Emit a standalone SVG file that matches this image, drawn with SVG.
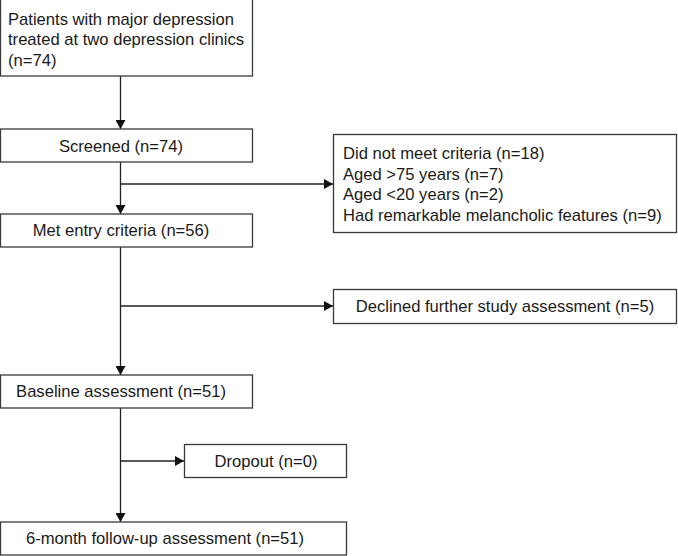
<svg xmlns="http://www.w3.org/2000/svg" width="678" height="556" viewBox="0 0 678 556">
<style>
.box{fill:#fff;stroke:#3a3a3a;stroke-width:1.3}
.t{font-family:"Liberation Sans",Arial,sans-serif;font-size:16.6px;fill:#1a1a1a}
.c{text-anchor:middle}
.ln{stroke:#222;stroke-width:1.3;fill:none}
</style>
<defs>
<marker id="ah" markerUnits="userSpaceOnUse" markerWidth="10" markerHeight="10" refX="9" refY="5" orient="auto">
<path d="M0,0 L9,5 L0,10 Z" fill="#111"/>
</marker>
</defs>
<rect width="678" height="556" fill="#fff"/>
<g id="connectors">
<line class="ln" x1="120.5" y1="76" x2="120.5" y2="129" marker-end="url(#ah)"/>
<line class="ln" x1="120.5" y1="162" x2="120.5" y2="214" marker-end="url(#ah)"/>
<line class="ln" x1="120.5" y1="184" x2="333" y2="184" marker-end="url(#ah)"/>
<line class="ln" x1="120.5" y1="247" x2="120.5" y2="375" marker-end="url(#ah)"/>
<line class="ln" x1="120.5" y1="306" x2="333" y2="306" marker-end="url(#ah)"/>
<line class="ln" x1="120.5" y1="408" x2="120.5" y2="522" marker-end="url(#ah)"/>
<line class="ln" x1="120.5" y1="461" x2="184" y2="461" marker-end="url(#ah)"/>
</g>
<g id="n1">
<rect class="box" x="0.5" y="-1" width="252" height="77"/>
<text class="t" x="8" y="24.5">Patients with major depression</text>
<text class="t" x="8" y="45">treated at two depression clinics</text>
<text class="t" x="8" y="65.5">(n=74)</text>
</g>
<g id="n2">
<rect class="box" x="0.5" y="129" width="252" height="33"/>
<text class="t c" x="121" y="151.5">Screened (n=74)</text>
</g>
<g id="n3">
<rect class="box" x="333.5" y="134.5" width="343" height="98"/>
<text class="t" x="343" y="159">Did not meet criteria (n=18)</text>
<text class="t" x="343" y="179.5">Aged &gt;75 years (n=7)</text>
<text class="t" x="343" y="200">Aged &lt;20 years (n=2)</text>
<text class="t" x="343" y="220.5">Had remarkable melancholic features (n=9)</text>
</g>
<g id="n4">
<rect class="box" x="0.5" y="214" width="252" height="33"/>
<text class="t c" x="121" y="236">Met entry criteria (n=56)</text>
</g>
<g id="n5">
<rect class="box" x="333.5" y="289.5" width="343" height="34"/>
<text class="t c" x="505" y="312">Declined further study assessment (n=5)</text>
</g>
<g id="n6">
<rect class="box" x="0.5" y="375" width="252" height="33"/>
<text class="t c" x="121" y="397">Baseline assessment (n=51)</text>
</g>
<g id="n7">
<rect class="box" x="184.5" y="444.5" width="162" height="33"/>
<text class="t c" x="266" y="467">Dropout (n=0)</text>
</g>
<g id="n8">
<rect class="box" x="0.5" y="522" width="346" height="33"/>
<text class="t c" x="165" y="544">6-month follow-up assessment (n=51)</text>
</g>
</svg>
